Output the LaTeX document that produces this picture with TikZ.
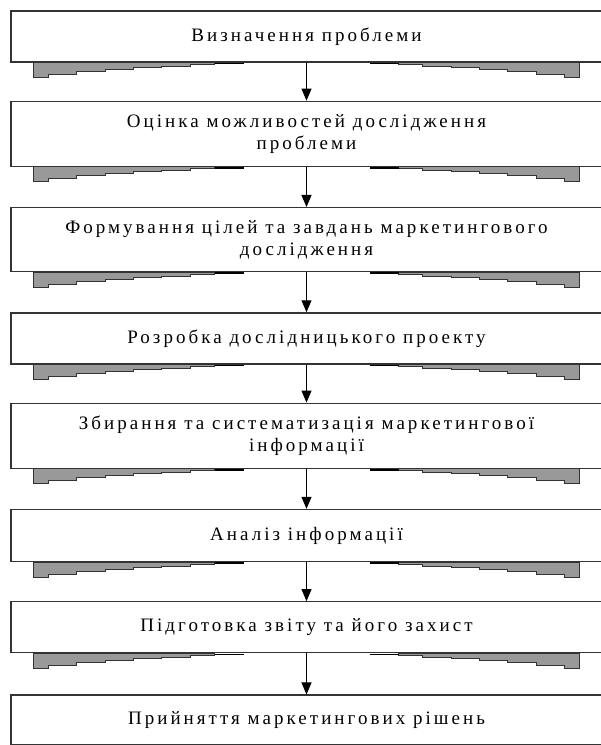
\documentclass[tikz,border=0pt]{standalone}
\usepackage{fontspec}
\setmainfont{Liberation Serif}[LetterSpace=16]
\usetikzlibrary{positioning,arrows.meta}
\definecolor{edge}{HTML}{333333}
\definecolor{shade}{HTML}{999999}
\tikzset{
  stage/.style={draw=edge, line width=1.3pt, fill=white, minimum width=591pt,
    minimum height=51pt, inner sep=2pt, align=center,
    font=\fontsize{19}{22}\selectfont},
  stage2/.style={stage, minimum height=65pt},
  arr/.style={draw=black, line width=1pt, -{Triangle[width=10pt,length=12pt]}}
}
\begin{document}
\begin{tikzpicture}[x=1pt, y=-1pt]
\useasboundingbox (0,0) rectangle (601,745);

\node[stage] (b1) at (306.5,36.5) {Визначення проблеми};
\node[stage2, below=38pt of b1] (b2) {Оцінка можливостей дослідження\\проблеми};
\node[stage2, below=40pt of b2, minimum height=64pt] (b3) {Формування цілей та завдань маркетингового\\дослідження};
\node[stage, below=40pt of b3] (b4) {Розробка дослідницького проекту};
\node[stage2, below=38pt of b4] (b5) {Збирання та систематизація маркетингової\\інформації};
\node[stage, below=40pt of b5, minimum height=52pt] (b6) {Аналіз інформації};
\node[stage, below=39pt of b6] (b7) {Підготовка звіту та його захист};
\node[stage, below=41pt of b7, minimum height=50pt] (b8) {Прийняття маркетингових рішень};

% stepped shadow under every box
\foreach \i in {1,...,8}
  \foreach \s in {-1,1}
  {
    \begin{scope}[shift={(b\i.south)}, xscale=\s]
      \filldraw[fill=shade, draw=edge, line width=1pt] (-273,0) -- (-273,15) -- (-258,15) -- (-258,12)
        -- (-230,12) -- (-230,9) -- (-201,9) -- (-201,7) -- (-173,7) -- (-173,5) -- (-145,5)
        -- (-145,4) -- (-116,4) -- (-116,2) -- (-92,2) -- (-92,0) -- cycle;
      \draw[line width=1.6pt] (-92,1) -- (-63,1);
    \end{scope}
  }

\foreach \a/\b in {1/2,2/3,3/4,4/5,5/6,6/7,7/8}
  \draw[arr] (b\a) -- (b\b);
\end{tikzpicture}
\end{document}
